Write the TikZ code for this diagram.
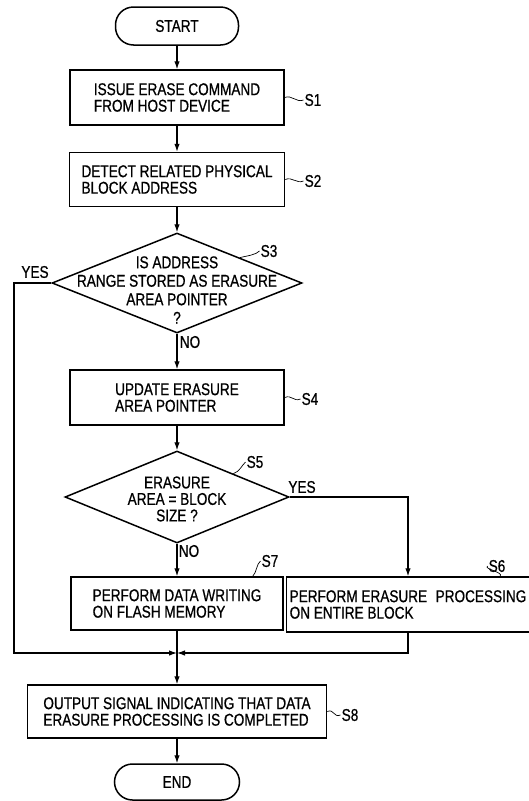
\documentclass[tikz,border=0pt]{standalone}
\usepackage{fontspec}
\setmainfont{Liberation Sans}[FakeStretch=0.8, FakeBold=0.7]
\usetikzlibrary{shapes.geometric, arrows.meta}

\begin{document}
\begin{tikzpicture}[x=1pt, y=-1pt,
        >={Latex[length=8pt,width=5.5pt]},   % Pfeilspitzen
        font=\fontsize{17}{16.5}\selectfont,
        box/.style={draw, line width=1.5pt, rectangle, align=left, inner sep=3pt},
        term/.style={draw, line width=1.5pt, rectangle, rounded corners=18pt},
        decision/.style={draw, line width=1.5pt, diamond, inner sep=0pt},
        flow/.style={line width=1.1pt},
        leader/.style={line width=0.7pt},
        tag/.style={inner sep=1pt}]
        % Bildbereich
        \useasboundingbox (0,0) rectangle (529,801);
        % Knoten zeichnen
        \node[term, minimum width=123, minimum height=38] (start) at (177,26) {START};
        \node[box, minimum width=214, minimum height=55] (s1) at (177,97.5) {ISSUE ERASE COMMAND\\FROM HOST DEVICE};
        \node[box, minimum width=215, minimum height=54] (s2) at (177,179.5) {DETECT RELATED PHYSICAL\\BLOCK ADDRESS};
        \node[decision, minimum width=250, minimum height=100,
              label={[align=center, yshift=-7pt, font=\fontsize{17}{18.5}\selectfont]center:{IS ADDRESS\\RANGE STORED AS ERASURE\\AREA POINTER\\?}}] (s3) at (177,283) {};
        \node[box, minimum width=214, minimum height=55] (s4) at (177,397.5) {UPDATE ERASURE\\AREA POINTER};
        \node[decision, minimum width=224, minimum height=92,
              label={[align=center, yshift=-2pt]center:{ERASURE\\AREA = BLOCK\\SIZE ?}}] (s5) at (177,497) {};
        \node[box, minimum width=212, minimum height=53] (s7) at (177,603.5) {PERFORM DATA WRITING\\ON FLASH MEMORY};
        \node[box, minimum width=240, minimum height=55] (s6) at (408,604.5) {PERFORM ERASURE\enspace PROCESSING\\ON ENTIRE BLOCK};
        \node[box, minimum width=299, minimum height=53] (s8) at (177,711.5) {OUTPUT SIGNAL INDICATING THAT DATA\\ERASURE PROCESSING IS COMPLETED};
        \node[term, minimum width=125, minimum height=36] (end) at (177,782) {END};
        % Schrittnummern
        \node[tag] (l1) at (313,100) {S1};
        \node[tag] (l2) at (313,181) {S2};
        \node[tag] (l3) at (269,251) {S3};
        \node[tag] (l4) at (310,399) {S4};
        \node[tag] (l5) at (255,462) {S5};
        \node[tag] (l6) at (497,566) {S6};
        \node[tag] (l7) at (270,561) {S7};
        \node[tag] (l8) at (350,715) {S8};
        % Verzweigungen
        \node[tag] (yes3) at (35,272) {YES};
        \node[tag] (no3) at (190,342) {NO};
        \node[tag] (yes5) at (302,487) {YES};
        \node[tag] (no5) at (189,551) {NO};
        \coordinate (lp) at (14,653);
        \coordinate (jn) at (177,653);
        % Pfeile zeichnen
        \draw[flow,->] (start) -- (s1);
        \draw[flow,->] (s1) -- (s2);
        \draw[flow,->] (s2) -- (s3);
        \draw[flow,->] (s3) -- (s4);
        \draw[flow,->] (s4) -- (s5);
        \draw[flow,->] (s5) -- (s7);
        \draw[flow,->] (s5) -| (s6);
        \draw[flow,->] (s3.west) -| (lp) -- (jn);
        \draw[flow,->] (s6) |- (jn);
        \draw[flow,->] (s7) -- (s8);
        \draw[flow,->] (s8) -- (end);
        % Hinweislinien
        \draw[leader] (s1.east) .. controls +(7,-3) and +(-7,3) .. (l1.west);
        \draw[leader] (s2.east) .. controls +(7,-3) and +(-7,3) .. (l2.west);
        \draw[leader] (s3.north east) .. controls +(8,-2) and +(-4,4) .. (l3.west);
        \draw[leader] (s4.east) .. controls +(7,-3) and +(-7,3) .. (l4.west);
        \draw[leader] (s5.north east) .. controls +(6,-2) and +(-4,4) .. (l5.west);
        \draw[leader] ([xshift=-30]s6.north east) .. controls +(4,-4) and +(-4,3) .. (l6.west);
        \draw[leader] ([xshift=-31]s7.north east) .. controls +(4,-4) and +(-4,3) .. (l7.west);
        \draw[leader] (s8.east) .. controls +(7,-3) and +(-7,3) .. (l8.west);
\end{tikzpicture}
\end{document}
